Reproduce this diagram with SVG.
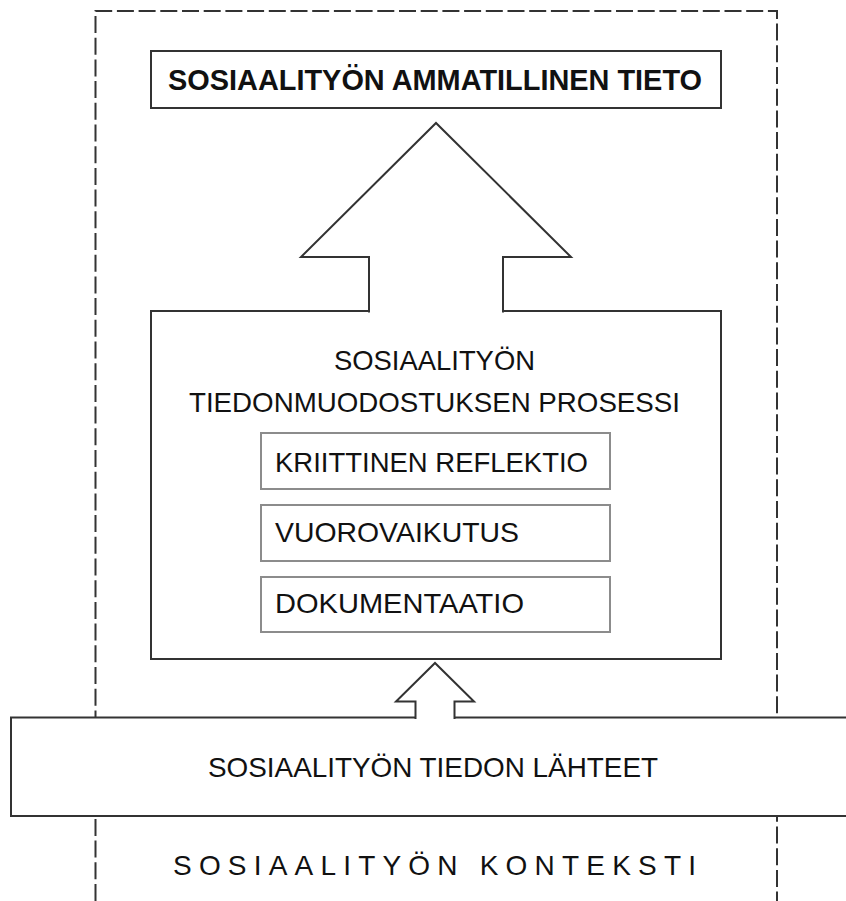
<svg xmlns="http://www.w3.org/2000/svg" width="846" height="901" viewBox="0 0 846 901">
<style>
.box{fill:#fff;stroke:#333;stroke-width:2}
.inner{fill:#fff;stroke:#8c8c8c;stroke-width:2}
.dash{fill:none;stroke:#333;stroke-width:2;stroke-dasharray:17 4.7}
.arrow{fill:#fff;stroke:#333;stroke-width:2;stroke-linejoin:miter}
.t{font-family:"Liberation Sans",Arial,sans-serif;font-size:28px;fill:#111}
.b{font-weight:bold;font-size:30px}
</style>
<rect width="846" height="901" fill="#fff"/>
<g id="context">
<path class="dash" d="M95.5,901 V11 H777 V901"/>
<text class="t" x="173" y="875" textLength="523" lengthAdjust="spacing">SOSIAALITYÖN KONTEKSTI</text>
</g>
<g id="ammatillinen-tieto">
<rect class="box" x="151" y="51" width="570" height="57"/>
<text class="t b" x="168" y="90" textLength="534" lengthAdjust="spacingAndGlyphs">SOSIAALITYÖN AMMATILLINEN TIETO</text>
</g>
<g id="prosessi">
<rect class="box" x="151" y="311" width="570" height="348"/>
<text class="t" x="334" y="370" textLength="201" lengthAdjust="spacingAndGlyphs">SOSIAALITYÖN</text>
<text class="t" x="189" y="412" textLength="491" lengthAdjust="spacingAndGlyphs">TIEDONMUODOSTUKSEN PROSESSI</text>
</g>
<g id="kriittinen-reflektio">
<rect class="inner" x="261" y="433" width="349" height="56"/>
<text class="t" x="275" y="472" textLength="313" lengthAdjust="spacingAndGlyphs">KRIITTINEN REFLEKTIO</text>
</g>
<g id="vuorovaikutus">
<rect class="inner" x="261" y="505" width="349" height="56"/>
<text class="t" x="275" y="542" textLength="244" lengthAdjust="spacingAndGlyphs">VUOROVAIKUTUS</text>
</g>
<g id="dokumentaatio">
<rect class="inner" x="261" y="577" width="349" height="55"/>
<text class="t" x="275" y="613" textLength="249" lengthAdjust="spacingAndGlyphs">DOKUMENTAATIO</text>
</g>
<g id="lahteet">
<rect class="box" x="11" y="717.5" width="850" height="98.5"/>
<text class="t" x="208" y="777" textLength="450" lengthAdjust="spacingAndGlyphs">SOSIAALITYÖN TIEDON LÄHTEET</text>
</g>
<g id="connectors">
<path class="arrow" d="M369,312.5 V257 H301 L436,123 L571,257 H503 V312.5"/>
<path class="arrow" d="M415.5,719 V701.5 H396 L435,663 L474,701.5 H454.5 V719"/>
</g>
</svg>
